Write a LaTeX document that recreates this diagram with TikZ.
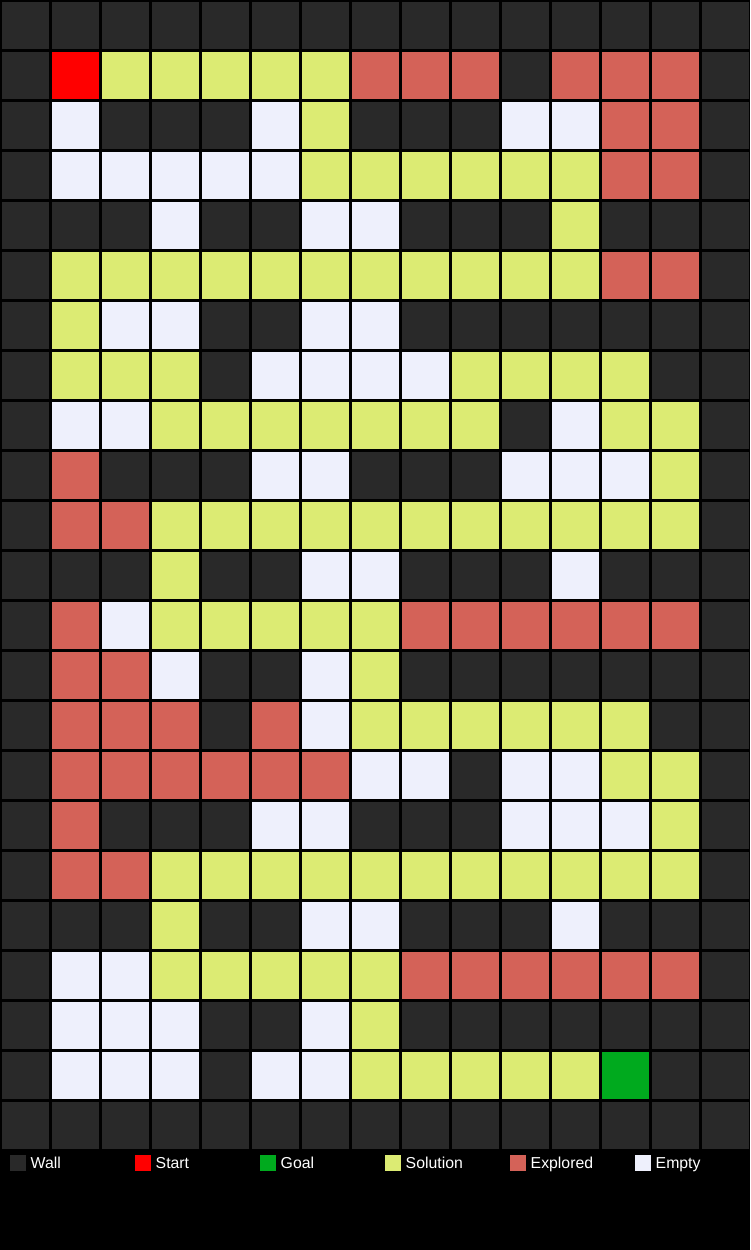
\documentclass[tikz,border=0pt]{standalone}
\usepackage{fontspec}
\setmainfont{Liberation Sans}
\usetikzlibrary{positioning}

\definecolor{cW}{RGB}{41,41,41}
\definecolor{cS}{RGB}{255,0,0}
\definecolor{cG}{RGB}{0,170,30}
\definecolor{cY}{RGB}{220,235,115}
\definecolor{cR}{RGB}{212,98,88}
\definecolor{cE}{RGB}{238,240,252}

\tikzset{
  cell/.style={rectangle, minimum size=0.94cm, inner sep=0pt, draw=none},
  keybox/.style={rectangle, minimum size=0.32cm, inner sep=0pt, draw=none},
  keytext/.style={text=white, font=\fontsize{9}{10}\selectfont, inner sep=0pt,
    text height=1.45ex, text depth=0.35ex}
}

\begin{document}
\begin{tikzpicture}
    % background and page size
    \fill[black] (0,0) rectangle (15,-25);
    \useasboundingbox (0,0) rectangle (15,-25);

    % maze, one row per line
    \foreach \row [count=\r from 0] in {
      {W,W,W,W,W,W,W,W,W,W,W,W,W,W,W},
      {W,S,Y,Y,Y,Y,Y,R,R,R,W,R,R,R,W},
      {W,E,W,W,W,E,Y,W,W,W,E,E,R,R,W},
      {W,E,E,E,E,E,Y,Y,Y,Y,Y,Y,R,R,W},
      {W,W,W,E,W,W,E,E,W,W,W,Y,W,W,W},
      {W,Y,Y,Y,Y,Y,Y,Y,Y,Y,Y,Y,R,R,W},
      {W,Y,E,E,W,W,E,E,W,W,W,W,W,W,W},
      {W,Y,Y,Y,W,E,E,E,E,Y,Y,Y,Y,W,W},
      {W,E,E,Y,Y,Y,Y,Y,Y,Y,W,E,Y,Y,W},
      {W,R,W,W,W,E,E,W,W,W,E,E,E,Y,W},
      {W,R,R,Y,Y,Y,Y,Y,Y,Y,Y,Y,Y,Y,W},
      {W,W,W,Y,W,W,E,E,W,W,W,E,W,W,W},
      {W,R,E,Y,Y,Y,Y,Y,R,R,R,R,R,R,W},
      {W,R,R,E,W,W,E,Y,W,W,W,W,W,W,W},
      {W,R,R,R,W,R,E,Y,Y,Y,Y,Y,Y,W,W},
      {W,R,R,R,R,R,R,E,E,W,E,E,Y,Y,W},
      {W,R,W,W,W,E,E,W,W,W,E,E,E,Y,W},
      {W,R,R,Y,Y,Y,Y,Y,Y,Y,Y,Y,Y,Y,W},
      {W,W,W,Y,W,W,E,E,W,W,W,E,W,W,W},
      {W,E,E,Y,Y,Y,Y,Y,R,R,R,R,R,R,W},
      {W,E,E,E,W,W,E,Y,W,W,W,W,W,W,W},
      {W,E,E,E,W,E,E,Y,Y,Y,Y,Y,G,W,W},
      {W,W,W,W,W,W,W,W,W,W,W,W,W,W,W}}
    {
      \foreach \c [count=\x from 0] in \row {
        \node[cell, fill=c\c] (m-\r-\x) at (\x+0.51,-\r-0.51) {};
      }
    }

    % legend
    \node[keybox, fill=cW] (k_wall) at (0.36,-23.26) {};
    \node[keytext, right=0.08cm of k_wall] (t_wall) {Wall};
    \node[keybox, fill=cS] (k_start) at (2.86,-23.26) {};
    \node[keytext, right=0.08cm of k_start] (t_start) {Start};
    \node[keybox, fill=cG] (k_goal) at (5.36,-23.26) {};
    \node[keytext, right=0.08cm of k_goal] (t_goal) {Goal};
    \node[keybox, fill=cY] (k_sol) at (7.86,-23.26) {};
    \node[keytext, right=0.08cm of k_sol] (t_sol) {Solution};
    \node[keybox, fill=cR] (k_expl) at (10.36,-23.26) {};
    \node[keytext, right=0.08cm of k_expl] (t_expl) {Explored};
    \node[keybox, fill=cE] (k_empty) at (12.86,-23.26) {};
    \node[keytext, right=0.08cm of k_empty] (t_empty) {Empty};
\end{tikzpicture}
\end{document}
